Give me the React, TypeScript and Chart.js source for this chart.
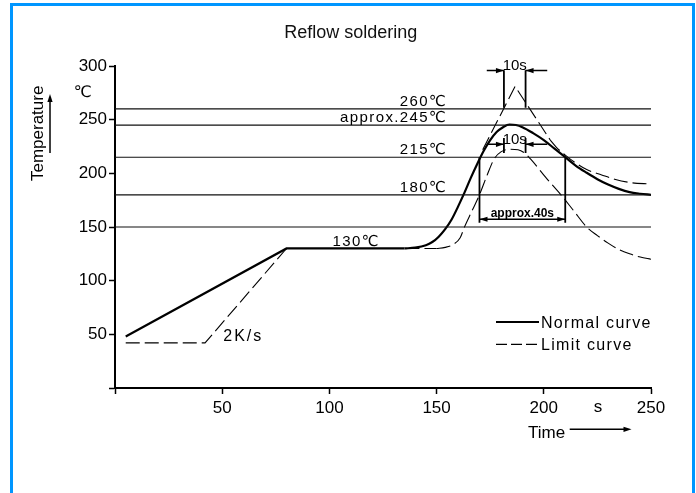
import React, { useEffect, useRef } from 'react';
import { Chart, registerables } from 'chart.js';

Chart.register(...registerables);

// ---------- data ----------
const TITLE = 'Reflow soldering';
const X_MIN = 0;
const X_MAX = 250;
const X_STEP = 50;
const Y_MIN = 0;
const Y_MAX = 300;
const Y_STEP = 50;

// Normal curve (solid)
const normalRampTime = [5, 80, 135];
const normalRampTemp = [48, 130, 130];
const normalPeakTime = [135, 140, 145, 148, 151, 154, 157, 160, 163, 166, 169, 172, 175, 178, 181, 184, 187, 190, 195, 200, 205, 210, 215, 220, 225, 230, 235, 240, 245, 250];
const normalPeakTemp = [130, 130.8, 133, 136, 141, 148, 157, 169, 182, 196, 209, 221, 231, 238.5, 243, 245.5, 245, 243, 237.5, 231, 223, 215, 207, 200.5, 194.5, 189.5, 185.5, 182.5, 181, 180];

// Limit curve, lower (dashed)
const lowerRampTime = [5, 42, 80, 150];
const lowerRampTemp = [42, 42, 130, 130];
const lowerPeakTime = [150, 154, 158, 161, 163, 166.5, 170, 173.5, 177, 180, 184, 188, 191, 194, 201, 208, 214, 220, 225, 230, 235, 240, 245, 250];
const lowerPeakTemp = [130, 131, 134, 140, 150, 165, 180, 198, 214, 220, 222.5, 222, 219, 213, 196, 180, 165, 150, 142, 135, 129, 125, 122, 120];

// Limit curve, upper (dashed)
const upperSpikeTime = [171.5, 186.6, 203];
const upperSpikeTemp = [222, 281, 231];
const upperTailTime = [203, 206, 210, 215, 220, 227, 233, 240, 250];
const upperTailTemp = [231, 224, 217, 209.5, 203.5, 198.5, 194.5, 191.5, 190];

// Reference temperature lines
const refTemps = [260, 245, 215, 180, 150];
const refLabelTemps = [260, 245, 215, 180];
const refLabels = ['260℃', 'approx.245℃', '215℃', '180℃'];
const refLabelRightTime = 155;
const preheatLabel = '130℃';
const preheatTemp = 130;
const preheatLabelTime = 101.5;
const rampLabel = '2K/s';
const rampLabelPos = [50.5, 44];

// Dimension marks
const tenSecTimes = [181.4, 191.5];
const tenSecArrowTails = [173.4, 201.6];
const tenSecLevels = [295.7, 227];
const tenSecSpanTop = [296, 233];
const tenSecSpanBottom = [261, 219];
const tenSecLabel = '10s';
const fortySecTimes = [170, 210];
const fortySecLevel = 157.2;
const fortySecSpan = [215, 154];
const fortySecLabel = 'approx.40s';

const legendLabels = ['Normal curve', 'Limit curve'];

const FONT = '"Liberation Sans", Arial, "DejaVu Sans", sans-serif';

function pts(t: number[], v: number[]) {
  return t.map((x, i) => ({ x, y: v[i] }));
}

function arrowHead(ctx: CanvasRenderingContext2D, x: number, y: number, dx: number, dy: number) {
  const len = 8;
  const w = 2.6;
  ctx.beginPath();
  ctx.moveTo(x, y);
  ctx.lineTo(x - dx * len - dy * w, y - dy * len + dx * w);
  ctx.lineTo(x - dx * len + dy * w, y - dy * len - dx * w);
  ctx.closePath();
  ctx.fill();
}

const annotations = {
  id: 'annotations',
  afterDatasetsDraw(chart: any) {
    const ctx: CanvasRenderingContext2D = chart.ctx;
    const xs = chart.scales.x;
    const ys = chart.scales.y;
    const X = (v: number) => xs.getPixelForValue(v);
    const Y = (v: number) => ys.getPixelForValue(v);
    ctx.save();
    ctx.fillStyle = '#000';
    ctx.strokeStyle = '#000';

    // title
    ctx.font = `18px ${FONT}`;
    ctx.textAlign = 'center';
    ctx.textBaseline = 'alphabetic';
    ctx.fillStyle = '#111';
    ctx.fillText(TITLE, 350.7, 37.5);
    ctx.fillStyle = '#000';

    // reference labels
    ctx.font = `15px ${FONT}`;
    (ctx as any).letterSpacing = '1.4px';
    ctx.textAlign = 'right';
    refLabelTemps.forEach((t, i) => {
      ctx.fillText(refLabels[i], X(refLabelRightTime), Y(t) - 3);
    });
    ctx.textAlign = 'left';
    ctx.fillText(preheatLabel, X(preheatLabelTime), Y(preheatTemp) - 2.5);
    ctx.font = `16px ${FONT}`;
    (ctx as any).letterSpacing = '2px';
    ctx.fillText(rampLabel, X(rampLabelPos[0]), Y(rampLabelPos[1]));
    (ctx as any).letterSpacing = '0px';

    // 10s dimension marks
    ctx.lineWidth = 1.8;
    tenSecLevels.forEach((lvl, k) => {
      ctx.beginPath();
      tenSecTimes.forEach((t) => {
        ctx.moveTo(X(t), Y(tenSecSpanTop[k]));
        ctx.lineTo(X(t), Y(tenSecSpanBottom[k]));
      });
      ctx.stroke();
      ctx.lineWidth = 1.5;
      ctx.beginPath();
      ctx.moveTo(X(tenSecArrowTails[0]), Y(lvl));
      ctx.lineTo(X(tenSecTimes[0]), Y(lvl));
      ctx.moveTo(X(tenSecArrowTails[1]), Y(lvl));
      ctx.lineTo(X(tenSecTimes[1]), Y(lvl));
      ctx.stroke();
      arrowHead(ctx, X(tenSecTimes[0]), Y(lvl), 1, 0);
      arrowHead(ctx, X(tenSecTimes[1]), Y(lvl), -1, 0);
      ctx.font = `15px ${FONT}`;
      ctx.textAlign = 'center';
      ctx.fillText(tenSecLabel, (X(tenSecTimes[0]) + X(tenSecTimes[1])) / 2, Y(lvl) - 0.5);
      ctx.lineWidth = 1.8;
    });

    // 40s dimension
    ctx.beginPath();
    fortySecTimes.forEach((t) => {
      ctx.moveTo(X(t), Y(fortySecSpan[0]));
      ctx.lineTo(X(t), Y(fortySecSpan[1]));
    });
    ctx.stroke();
    ctx.lineWidth = 1.5;
    ctx.beginPath();
    ctx.moveTo(X(fortySecTimes[0]), Y(fortySecLevel));
    ctx.lineTo(X(fortySecTimes[1]), Y(fortySecLevel));
    ctx.stroke();
    arrowHead(ctx, X(fortySecTimes[0]), Y(fortySecLevel), -1, 0);
    arrowHead(ctx, X(fortySecTimes[1]), Y(fortySecLevel), 1, 0);
    ctx.font = `bold 12px ${FONT}`;
    ctx.textAlign = 'center';
    ctx.fillText(fortySecLabel, (X(fortySecTimes[0]) + X(fortySecTimes[1])) / 2, Y(fortySecLevel) - 2.5);

    // unit "s" on x axis
    ctx.font = `17px ${FONT}`;
    ctx.textAlign = 'center';
    ctx.textBaseline = 'middle';
    ctx.fillText('s', X(225.3), 407.5);

    // axis titles
    ctx.textBaseline = 'alphabetic';
    ctx.font = `17px ${FONT}`;
    ctx.textAlign = 'left';
    ctx.fillText('Time', 528, 438.3);
    ctx.lineWidth = 1.5;
    ctx.beginPath();
    ctx.moveTo(569.7, 429.3);
    ctx.lineTo(626, 429.3);
    ctx.stroke();
    arrowHead(ctx, 631.5, 429.3, 1, 0);

    ctx.save();
    ctx.translate(43.3, 133.3);
    ctx.rotate(-Math.PI / 2);
    ctx.textAlign = 'center';
    ctx.fillText('Temperature', 0, 0);
    ctx.restore();
    ctx.beginPath();
    ctx.moveTo(50, 153);
    ctx.lineTo(50, 99);
    ctx.stroke();
    arrowHead(ctx, 50, 94, 0, -1);

    ctx.font = `16px ${FONT}`;
    ctx.textAlign = 'center';
    ctx.textBaseline = 'middle';
    ctx.fillText('℃', 82.5, 93);

    // legend
    ctx.textBaseline = 'alphabetic';
    ctx.textAlign = 'left';
    ctx.font = `16px ${FONT}`;
    (ctx as any).letterSpacing = '1.3px';
    ctx.lineWidth = 2;
    ctx.beginPath();
    ctx.moveTo(496, 322);
    ctx.lineTo(539, 322);
    ctx.stroke();
    ctx.fillText(legendLabels[0], 541, 327.5);
    ctx.lineWidth = 1.3;
    ctx.setLineDash([11, 4]);
    ctx.beginPath();
    ctx.moveTo(496, 344.3);
    ctx.lineTo(539, 344.3);
    ctx.stroke();
    ctx.setLineDash([]);
    ctx.fillText(legendLabels[1], 541, 350);
    (ctx as any).letterSpacing = '0px';

    ctx.restore();
  },
};

export default function App() {
  const ref = useRef<HTMLCanvasElement | null>(null);

  useEffect(() => {
    if (!ref.current) return;
    const solid = { borderColor: '#000', borderWidth: 2.2, pointRadius: 0, showLine: true, fill: false };
    const dashed = { borderColor: '#000', borderWidth: 1.1, borderDash: [14, 5], pointRadius: 0, showLine: true, fill: false };
    const refLine = { borderColor: '#111', borderWidth: 1.2, pointRadius: 0, showLine: true, fill: false, tension: 0 };

    const datasets: any[] = [
      ...refTemps.map((t) => ({ label: `${t}`, data: [{ x: X_MIN, y: t }, { x: X_MAX, y: t }], ...refLine })),
      { label: 'Normal ramp', data: pts(normalRampTime, normalRampTemp), ...solid, tension: 0 },
      { label: 'Normal curve', data: pts(normalPeakTime, normalPeakTemp), ...solid, cubicInterpolationMode: 'monotone' },
      { label: 'Limit ramp', data: pts(lowerRampTime, lowerRampTemp), ...dashed, tension: 0 },
      { label: 'Limit lower', data: pts(lowerPeakTime, lowerPeakTemp), ...dashed, cubicInterpolationMode: 'monotone' },
      { label: 'Limit spike', data: pts(upperSpikeTime, upperSpikeTemp), ...dashed, tension: 0 },
      { label: 'Limit upper', data: pts(upperTailTime, upperTailTemp), ...dashed, cubicInterpolationMode: 'monotone' },
    ];

    const chart = new Chart(ref.current, {
      type: 'scatter',
      data: { datasets },
      options: {
        animation: false,
        responsive: false,
        devicePixelRatio: 1,
        layout: { padding: { left: 0, top: 66, right: 45, bottom: 0 } },
        plugins: { legend: { display: false }, tooltip: { enabled: false }, title: { display: false } },
        scales: {
          x: {
            type: 'linear',
            min: X_MIN,
            max: X_MAX,
            afterFit: (s: any) => { s.height = 105; },
            ticks: {
              stepSize: X_STEP,
              color: '#000',
              padding: 4,
              maxRotation: 0,
              font: { family: FONT, size: 17 },
              callback: (v: any) => (v === 0 ? '' : String(v)),
            },
            grid: { drawOnChartArea: false, drawTicks: true, tickLength: 6, color: '#000', tickWidth: 1.5 },
            border: { display: true, color: '#000', width: 2 },
          },
          y: {
            type: 'linear',
            min: Y_MIN,
            max: Y_MAX,
            afterFit: (s: any) => { s.width = 115; },
            ticks: {
              stepSize: Y_STEP,
              color: '#000',
              padding: 2,
              font: { family: FONT, size: 17 },
              callback: (v: any) => (v === 0 ? '' : String(v)),
            },
            grid: { drawOnChartArea: false, drawTicks: true, tickLength: 6, color: '#000', tickWidth: 1.5 },
            border: { display: true, color: '#000', width: 2 },
          },
        },
      },
      plugins: [annotations],
    });
    return () => chart.destroy();
  }, []);

  return (
    <div style={{ position: 'fixed', left: 0, top: 0, width: 696, height: 493, background: '#fff', overflow: 'hidden' }}>
      <canvas ref={ref} width={696} height={493} style={{ position: 'absolute', left: 0, top: 0, width: 696, height: 493 }} />
      <div
        style={{
          position: 'absolute',
          left: 10,
          top: 3,
          width: 685,
          height: 520,
          boxSizing: 'border-box',
          border: '3px solid #0096FF',
          pointerEvents: 'none',
        }}
      />
    </div>
  );
}
